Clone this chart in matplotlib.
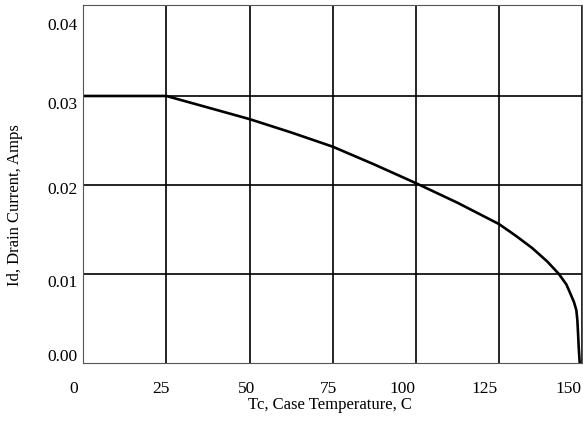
import matplotlib
matplotlib.use("Agg")
import matplotlib.pyplot as plt
import matplotlib.transforms as mtransforms

# case temperature (C) vs max drain current (A)
temp_c = [0, 25, 37.5, 50, 62.5, 75, 87.5, 100, 112.5, 125, 130, 135, 139.5, 143,
          145.3, 146.7, 147.6, 148.3, 148.6, 148.8, 149.0, 149.3]
drain_a = [0.0300, 0.0300, 0.0287, 0.0274, 0.0259, 0.0243, 0.0223, 0.0202, 0.0180, 0.0156,
           0.0143, 0.0129, 0.0114, 0.0100, 0.0088, 0.0076, 0.0068, 0.0059, 0.0048,
           0.0034, 0.0018, 0.0000]

x_ticks = [0, 25, 50, 75, 100, 125, 150]
y_ticks = [0.00, 0.01, 0.02, 0.03, 0.04]
y_tick_labels = ["0.00", "0.01", "0.02", "0.03", "0.04"]

# nudges (px) of tick labels, the scan has them off-centre
x_label_nudge = [-10, -5, -3, -4, -13, -14, -14]
y_label_nudge = [8, -7, -3, -7, -17]

plt.rcParams['font.family'] = ['Liberation Serif', 'DejaVu Serif']

fig = plt.figure(figsize=(5.83, 4.21), dpi=100)
ax = fig.add_axes([0.1429, 0.1385, 0.8554, 0.8489])

# grid lines drawn dark like the datasheet
ax.grid(True, color='black', linewidth=1.2)
ax.set_axisbelow(True)

ax.plot(temp_c, drain_a, color='black', linewidth=1.9, solid_joinstyle='round')

ax.set_xlim(0, 150)
ax.set_ylim(0, 0.0402)
ax.set_xticks(x_ticks)
ax.set_yticks(y_ticks)
ax.set_yticklabels(y_tick_labels)
ax.tick_params(axis='both', length=0, labelsize=12.5)
ax.tick_params(axis='x', pad=13)
ax.tick_params(axis='y', pad=4)

# the top and bottom grid lines would sit on the frame
ax.get_ygridlines()[0].set_visible(False)
ax.get_ygridlines()[-1].set_visible(False)
ax.get_xgridlines()[0].set_visible(False)

for lbl, dx in zip(ax.get_xticklabels(), x_label_nudge):
    shift = mtransforms.ScaledTranslation(dx / 100, 0, fig.dpi_scale_trans)
    lbl.set_transform(lbl.get_transform() + shift)
for lbl, dy in zip(ax.get_yticklabels(), y_label_nudge):
    shift = mtransforms.ScaledTranslation(0, dy / 100, fig.dpi_scale_trans)
    lbl.set_transform(lbl.get_transform() + shift)

for sp in ax.spines.values():
    sp.set_color('#555555')
    sp.set_linewidth(0.8)

ax.set_xlabel("Tc, Case Temperature, C", fontsize=12)
ax.set_ylabel("Id, Drain Current, Amps", fontsize=12)
ax.xaxis.set_label_coords(0.495, -0.097)
ax.yaxis.set_label_coords(-0.121, 0.441)

fig.savefig("out.png", dpi=100)
